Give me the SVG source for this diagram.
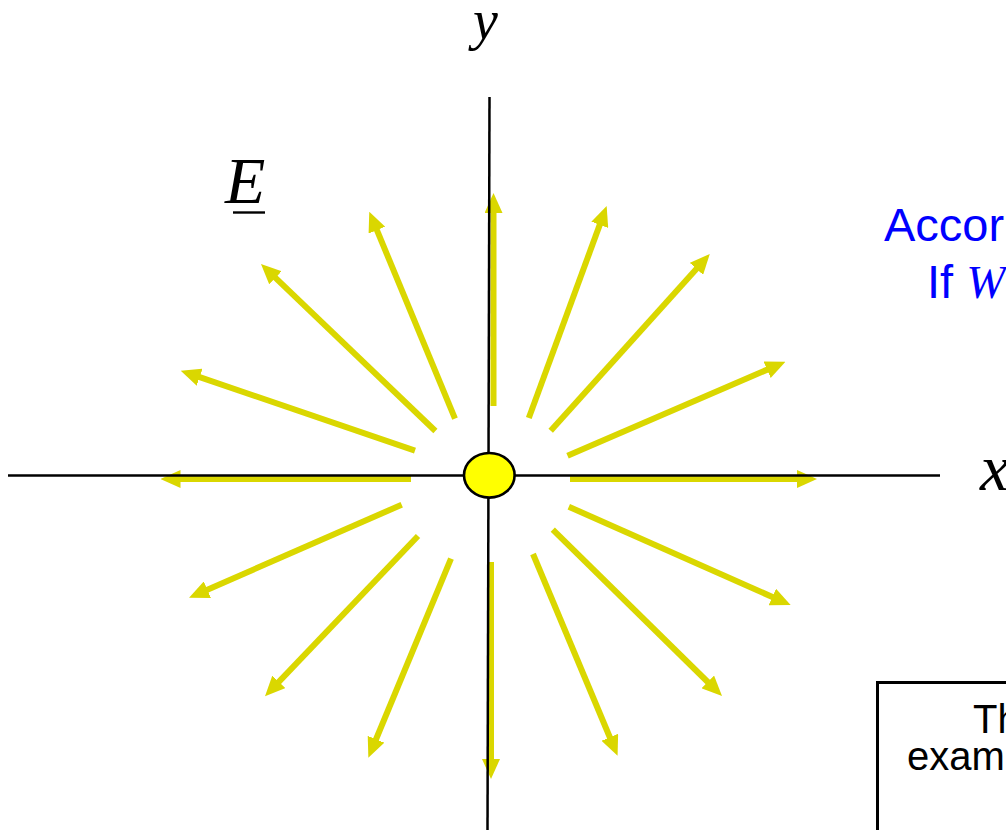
<svg xmlns="http://www.w3.org/2000/svg" width="1006" height="830" viewBox="0 0 1006 830">
  <style>
    .ax { stroke: #000; stroke-width: 2.5; fill: none; }
    .fl { stroke: #DAD700; stroke-width: 6; fill: none; marker-end: url(#ah); }
    .mth { font-family: "Liberation Serif", "Times New Roman", serif; font-style: italic; fill: #000; }
    .blue { font-family: "Liberation Sans", Arial, sans-serif; fill: #0000FF; font-size: 47px; }
    .blk { font-family: "Liberation Sans", Arial, sans-serif; fill: #000; font-size: 40px; }
  </style>
  <defs>
    <marker id="ah" viewBox="0 0 20 18" markerUnits="userSpaceOnUse" markerWidth="20" markerHeight="18" refX="10" refY="9" orient="auto">
      <path d="M0,0 L20,9 L0,18 z" fill="#DAD700"/>
    </marker>
  </defs>
  <rect width="1006" height="830" fill="#fff"/>

  <g id="field-lines">
    <line class="fl" x1="493.5" y1="406" x2="493.5" y2="203"/>
    <line class="fl" x1="491" y1="562" x2="491" y2="769"/>
    <line class="fl" x1="570" y1="479" x2="807" y2="479"/>
    <line class="fl" x1="411" y1="479" x2="170.5" y2="479"/>
    <line class="fl" x1="528.8" y1="418" x2="603.2" y2="215.4"/>
    <line class="fl" x1="550.7" y1="430.7" x2="703.1" y2="261.4"/>
    <line class="fl" x1="567.5" y1="455.7" x2="776.3" y2="365.7"/>
    <line class="fl" x1="455" y1="418.7" x2="373.1" y2="220.9"/>
    <line class="fl" x1="435.4" y1="431" x2="268.2" y2="270.9"/>
    <line class="fl" x1="415" y1="450.7" x2="190.2" y2="373.9"/>
    <line class="fl" x1="401.7" y1="504.7" x2="198.2" y2="593.7"/>
    <line class="fl" x1="418" y1="536" x2="271.9" y2="689.1"/>
    <line class="fl" x1="451" y1="558.7" x2="372.2" y2="748.5"/>
    <line class="fl" x1="533" y1="554" x2="613.7" y2="746.5"/>
    <line class="fl" x1="552.8" y1="529.7" x2="714.9" y2="689"/>
    <line class="fl" x1="568.8" y1="506.7" x2="781.5" y2="601"/>
  </g>

  <g id="axes">
    <line class="ax" x1="8" y1="475.5" x2="940" y2="475.5"/>
    <line class="ax" x1="489.5" y1="97" x2="487.5" y2="830"/>
  </g>

  <g id="charge">
    <ellipse cx="489.3" cy="475.3" rx="25.3" ry="22.3" fill="#FFFF00" stroke="#000" stroke-width="2.6"/>
  </g>

  <g id="labels">
    <text class="mth" x="473" y="39" font-size="56">y</text>
    <text class="mth" x="980" y="490" font-size="66">x</text>
    <text class="mth" x="225" y="203" font-size="66">E</text>
    <line x1="233" y1="212.5" x2="265" y2="212.5" stroke="#000" stroke-width="2.4"/>
  </g>

  <g id="blue-text">
    <text class="blue" x="884" y="241">Accor</text>
    <text class="blue" x="927" y="298">If <tspan font-family="Liberation Serif, Times New Roman, serif" font-style="italic">W</tspan></text>
  </g>

  <g id="note-box">
    <rect x="877.5" y="682.5" width="200" height="200" fill="none" stroke="#000" stroke-width="3"/>
    <text class="blk" x="973" y="733">Th</text>
    <text class="blk" x="907" y="770">exam</text>
  </g>
</svg>
